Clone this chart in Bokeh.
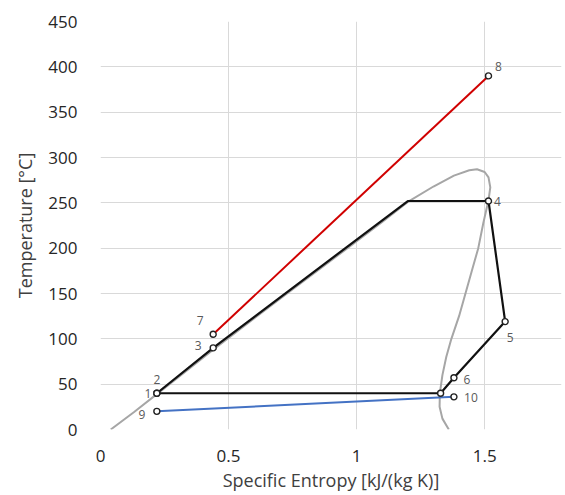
from bokeh.plotting import figure
from bokeh.models import ColumnDataSource, FixedTicker
from bokeh.core.properties import value
from bokeh.embed import file_html
from bokeh.resources import INLINE

# Saturation dome of the working fluid (liquid line, critical region, vapour line)
dome_s = [0.04, 0.13, 0.22, 0.44, 0.70, 0.95, 1.10, 1.20, 1.30, 1.38, 1.44, 1.47,
          1.50, 1.515, 1.522, 1.515, 1.495, 1.475, 1.45, 1.425, 1.40, 1.37, 1.35,
          1.335, 1.325, 1.324, 1.335, 1.36]
dome_T = [0, 19, 39, 88, 144, 197, 229, 251, 268, 280, 286, 287,
          284, 278, 267, 253, 228, 200, 175, 150, 125, 100, 80,
          60, 40, 25, 12, 0]

# Closed ORC cycle: pump, preheat, evaporate, expand, desuperheat, condense
cycle_s = [0.22, 0.44, 1.20, 1.515, 1.58, 1.38, 1.328, 0.22]
cycle_T = [40, 90, 252, 252, 119, 57, 40, 40]

# Heat source (7 -> 8) and cooling water (9 -> 10)
source_s = [0.44, 1.515]
source_T = [105, 390]
sink_s = [0.22, 1.38]
sink_T = [20, 36]

# Numbered state points
state_names = ["1", "2", "3", "4", "5", "6", "7", "8", "9", "10"]
state_s = [0.22, 0.22, 0.44, 1.515, 1.58, 1.38, 0.44, 1.515, 0.22, 1.38]
state_T = [40, 40, 90, 252, 119, 57, 105, 390, 20, 36]

# Marker at the saturated-vapour end of the condenser (unnumbered)
sat_s = [1.328]
sat_T = [40]

x_ticks = [0, 0.5, 1, 1.5]
x_tick_text = ["0", "0.5", "1", "1.5"]
y_ticks = [0, 50, 100, 150, 200, 250, 300, 350, 400, 450]

# label placement around each marker, in screen pixels
label_dx = [-9, 0, -15, 9, 5, 13, -13, 10, -15, 17]
label_dy = [0, -14, -2, 0, 16, 2, -14, -9, 3, 1]

FONT = "Open Sans"

p = figure(width=565, height=495, output_backend="svg", toolbar_location=None,
           x_range=(0, 1.8), y_range=(0, 450),
           min_border_left=100, min_border_right=4, min_border_top=21,
           min_border_bottom=66)
p.outline_line_color = None
p.background_fill_color = "white"
p.border_fill_color = "white"

p.xaxis.ticker = FixedTicker(ticks=x_ticks)
p.xaxis.major_label_overrides = {t: s for t, s in zip(x_ticks, x_tick_text)}
p.yaxis.ticker = FixedTicker(ticks=y_ticks)

for ax in (p.xaxis[0], p.yaxis[0]):
    ax.axis_line_color = None
    ax.major_tick_line_color = None
    ax.minor_tick_line_color = None
    ax.major_label_text_font = FONT
    ax.major_label_text_font_size = "17px"
    ax.major_label_text_color = "#262626"
    ax.axis_label_text_font = FONT
    ax.axis_label_text_font_size = "18px"
    ax.axis_label_text_font_style = "normal"
    ax.axis_label_text_color = "#404040"

p.xaxis.axis_label = "Specific Entropy [kJ/(kg K)]"
p.yaxis.axis_label = "Temperature [°C]"
p.xaxis.major_label_standoff = 14
p.xaxis.axis_label_standoff = 3
p.yaxis.major_label_standoff = 17
p.yaxis.axis_label_standoff = 8

p.xgrid.grid_line_color = "#D9D9D9"
p.ygrid.grid_line_color = "#D9D9D9"
p.xgrid.grid_line_width = 1
p.ygrid.grid_line_width = 1

p.line(dome_s, dome_T, line_color="#A6A6A6", line_width=2)
p.line(source_s, source_T, line_color="#D00000", line_width=2)
p.line(sink_s, sink_T, line_color="#4472C4", line_width=2)
p.line(cycle_s, cycle_T, line_color="#111111", line_width=2.2)

p.scatter(state_s, state_T, marker="circle", size=6, fill_color="white",
          line_color="#222222", line_width=1.4)
p.scatter(sat_s, sat_T, marker="circle", size=6, fill_color="white",
          line_color="#222222", line_width=1.4)

labels = ColumnDataSource(dict(s=state_s, T=state_T, name=state_names,
                               dx=label_dx, dy=label_dy))
p.text(x="s", y="T", text="name", x_offset="dx", y_offset="dy", source=labels,
       text_font=value(FONT), text_font_size="12px", text_color="#595959",
       text_align="center", text_baseline="middle")

open("out.html", "w").write(file_html(p, INLINE))
